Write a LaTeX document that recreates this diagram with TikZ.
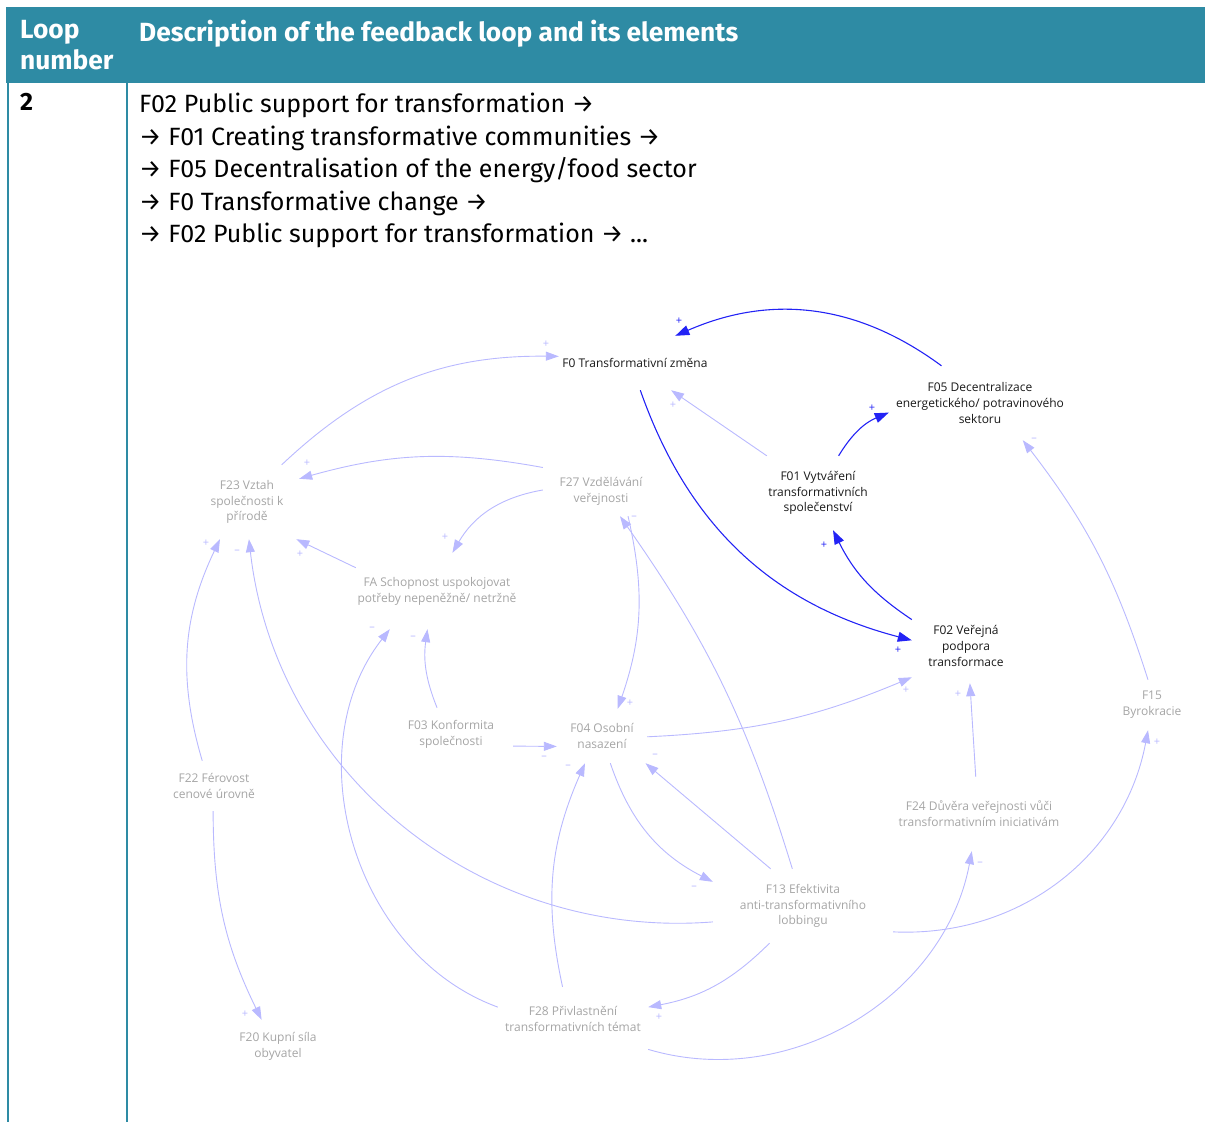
\documentclass[tikz,border=0pt]{standalone}
\usepackage{fontspec}
\setmainfont{Fira Sans}
\newfontfamily\mapfont{Open Sans}
\usetikzlibrary{arrows.meta}

\definecolor{headteal}{RGB}{46,139,164}
\definecolor{keyblue}{RGB}{35,35,245}
\definecolor{linkblue}{RGB}{185,185,255}
\definecolor{factorgrey}{RGB}{165,165,165}
\definecolor{factorblack}{RGB}{25,25,25}

\tikzset{
  headtext/.style={text=white, font=\bfseries\fontsize{26.3}{31}\selectfont, align=left, inner sep=0pt},
  celltext/.style={text=black, font=\fontsize{25}{32.5}\selectfont, align=left, inner sep=0pt},
  factor/.style={font=\mapfont\fontsize{12}{15.8}\selectfont, align=center, text=factorgrey, inner sep=0pt},
  keyfactor/.style={factor, text=factorblack},
  link/.style={draw=linkblue, line width=0.9pt, -{Triangle[length=13pt,width=9pt]}},
  keylink/.style={draw=keyblue, line width=1.1pt, -{Triangle[length=14pt,width=10pt]}},
  sign/.style={font=\mapfont\fontsize{11}{11}\selectfont, inner sep=0pt},
}

\begin{document}
\begin{tikzpicture}[x=1pt,y=-1pt]
  \useasboundingbox (0,0) rectangle (1205,1122);

  % table frame
  \fill[headteal] (6,7) rectangle (1205,83);
  \draw[headteal, line width=2.5pt] (8,83) -- (8,1122);
  \draw[headteal, line width=2.5pt] (127,83) -- (127,1122);

  \node[headtext, anchor=north west] (loopcol) at (20,20) {Loop\\number};
  \node[headtext, anchor=north west] (desccol) at (139,20) {Description of the feedback loop and its elements};
  \node[celltext, font=\bfseries\fontsize{25}{32.5}\selectfont, anchor=north west] (loopno) at (20,93) {2};
  \node[celltext, anchor=north west] (loopdesc) at (139,93) {F02 Public support for transformation →\\
    → F01 Creating transformative communities →\\
    → F05 Decentralisation of the energy/food sector\\
    → F0 Transformative change →\\
    → F02 Public support for transformation → ...};

  % factors of the loop
  \node[keyfactor, minimum width=152pt, minimum height=54pt] (f0) at (635,363) {F0 Transformativní změna};
  \node[keyfactor, minimum width=182pt, minimum height=74pt] (f05) at (980,403) {F05 Decentralizace\\energetického/ potravinového\\sektoru};
  \node[keyfactor, minimum width=104pt, minimum height=74pt] (f01) at (818,493) {F01 Vytváření\\transformativních\\společenství};
  \node[keyfactor, minimum width=108pt, minimum height=74pt] (f02) at (966,646) {F02 Veřejná\\podpora\\transformace};

  % other factors
  \node[factor, minimum width=104pt, minimum height=74pt] (f23) at (247,502) {F23 Vztah\\společnosti k\\přírodě};
  \node[factor, minimum width=116pt, minimum height=50pt] (f27) at (601,491) {F27 Vzdělávání\\veřejnosti};
  \node[factor, minimum width=162pt, minimum height=76pt] (fa) at (437,591) {FA Schopnost uspokojovat\\potřeby nepeněžně/ netržně};
  \node[factor, minimum width=124pt, minimum height=52pt] (f03) at (451,734) {F03 Konformita\\společnosti};
  \node[factor, minimum width=90pt, minimum height=54pt] (f04) at (602,736) {F04 Osobní\\nasazení};
  \node[factor, minimum width=90pt, minimum height=50pt] (f22) at (214,786) {F22 Férovost\\cenové úrovně};
  \node[factor, minimum width=64pt, minimum height=50pt] (f15) at (1152,705) {F15\\Byrokracie};
  \node[factor, minimum width=166pt, minimum height=74pt] (f24) at (979,814) {F24 Důvěra veřejnosti vůči\\transformativním iniciativám};
  \node[factor, minimum width=180pt, minimum height=74pt] (f13) at (803,906) {F13 Efektivita\\anti-transformativního\\lobbingu};
  \node[factor, minimum width=150pt, minimum height=64pt] (f28) at (573,1019) {F28 Přivlastnění\\transformativních témat};
  \node[factor, minimum width=80pt, minimum height=52pt] (f20) at (278,1046) {F20 Kupní síla\\obyvatel};

  % light links
  \draw[link] (f23.47) to[bend left=22] (f0.175);
  \draw[link] (f01.144) -- (f0.-37);
  \draw[link] (f27.158) to[bend right=13] (f23.24);
  \draw[link] (f27.179) to[bend right=25] (fa.68);
  \draw[link] (fa.164) -- (f23.-37);
  \draw[link] (f22.115) to[bend left=21] (f23.234);
  \draw[link] (f13.190) to[bend left=44] (f23.-87);
  \draw[link] (f03.118) to[bend left=15] (fa.-104);
  \draw[link] (f28.171) to[bend left=54] (fa.219);
  \draw[link] (f03.-11) -- (f04.193);
  \draw[link] (f27.-43) to[bend left=16] (f04.60);
  \draw[link] (f04.-1) to[bend right=10] (f02.210);
  \draw[link] (f13.106) to[bend right=9] (f27.-53);
  \draw[link] (f04.-73) to[bend right=22] (f13.165);
  \draw[link] (f13.131) -- (f04.-32);
  \draw[link] (f28.108) to[bend left=18] (f04.-122);
  \draw[link] (f13.-132) to[bend left=17] (f28.9);
  \draw[link] (f28.-22) to[bend right=48] (f24.-101);
  \draw[link] (f13.-16) to[bend right=41] (f15.-99);
  \draw[link] (f24.95) -- (f02.-84);
  \draw[link] (f15.99) to[bend right=10] (f05.-41);
  \draw[link] (f22.-92) to[bend right=13] (f20.122);

  % the loop itself
  \draw[keylink] (f05.136) to[bend right=30] (f0.34);
  \draw[keylink] (f0.-79) to[bend right=28] (f02.174);
  \draw[keylink] (f02.154) to[bend left=15] (f01.-68);
  \draw[keylink] (f01.61) to[bend left=18] (f05.186);

  % polarities
  \foreach \x/\y/\s/\c [count=\i] in {679/321/+/keyblue, 898/650/+/keyblue, 824/545/+/keyblue,
      872/408/+/keyblue, 546/344/+/linkblue, 673/405/+/linkblue, 307/463/+/linkblue,
      445/537/+/linkblue, 300/554/+/linkblue, 206/543/+/linkblue, 237/552/–/linkblue,
      413/638/–/linkblue, 372/629/–/linkblue, 544/758/–/linkblue, 630/703/+/linkblue,
      906/690/+/linkblue, 634/518/–/linkblue, 694/888/–/linkblue, 655/756/–/linkblue,
      568/767/–/linkblue, 659/1017/+/linkblue, 980/864/–/linkblue, 1157/742/+/linkblue,
      958/694/+/linkblue, 1034/440/–/linkblue, 245/1014/+/linkblue}
    \node[sign, text=\c] (sign\i) at (\x,\y) {\s};
\end{tikzpicture}
\end{document}
